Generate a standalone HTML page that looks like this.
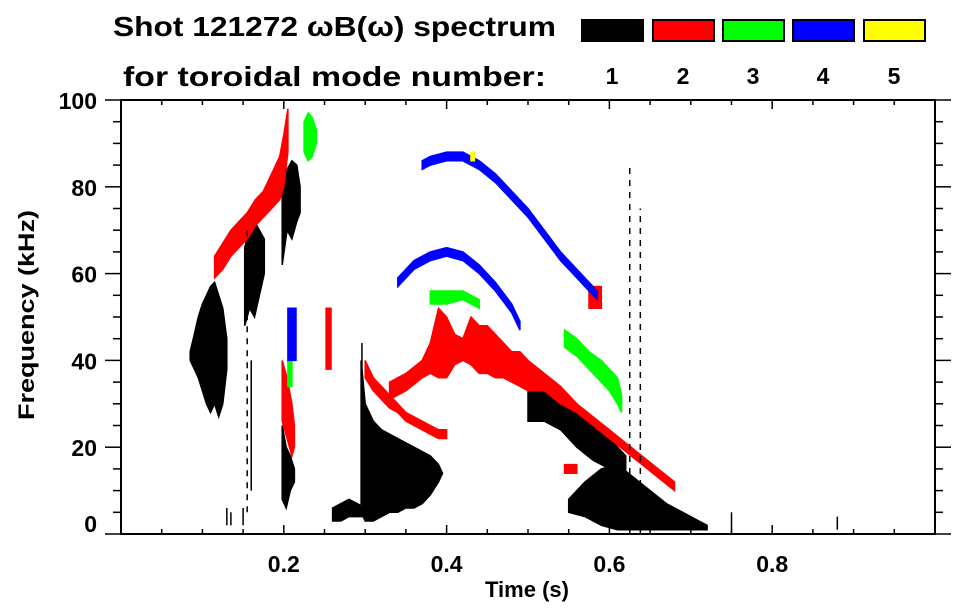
<!DOCTYPE html>
<html><head><meta charset="utf-8"><style>
html,body{margin:0;padding:0;background:#fff}
svg{display:block}
text{font-family:"Liberation Sans",Arial,sans-serif;font-weight:bold;fill:#000}
</style></head><body>
<svg id="chart" width="963" height="615" viewBox="0 0 963 615">
<text x="113" y="36" font-size="28" textLength="443" lengthAdjust="spacingAndGlyphs">Shot 121272 ωB(ω) spectrum</text>
<text x="123" y="86" font-size="28" textLength="423" lengthAdjust="spacingAndGlyphs">for toroidal mode number:</text>
<g id="legend"></g>
<g id="marks"></g>
<g id="axes"></g>
<text transform="translate(34,315) rotate(-90)" text-anchor="middle" font-size="22" textLength="210" lengthAdjust="spacingAndGlyphs">Frequency (kHz)</text>
<text x="527" y="597" text-anchor="middle" font-size="22">Time (s)</text>
</svg>
<script>
// ---- data ----
const modeNumbers = [1, 2, 3, 4, 5];
const modeColors = ['#000000', '#ff0000', '#00ff00', '#0000ff', '#ffff00'];
const xTicks = [0.2, 0.4, 0.6, 0.8];
const xTickLabels = ['0.2', '0.4', '0.6', '0.8'];
const yTicks = [0, 20, 40, 60, 80, 100];
const yTickLabels = ['0', '20', '40', '60', '80', '100'];

const m1aT = [.085,.09,.095,.10,.105,.11,.115,.12,.125,.13];
const m1aLo = [40,38,36,33,30,28,30,27,30,38];
const m1aHi = [42,46,50,53,55,57,58,55,52,45];
const m1bT = [.152,.158,.164,.170,.176];
const m1bLo = [48,52,50,55,60];
const m1bHi = [66,70,72,70,68];
const m1cT = [.198,.204,.21,.216,.22];
const m1cLo = [62,70,68,72,74];
const m1cHi = [80,84,86,85,80];
const m1dT = [.198,.203,.208,.213];
const m1dLo = [8,6,10,12];
const m1dHi = [25,20,18,15];
const m1eT = [.26,.27,.28,.29,.30];
const m1eLo = [3,3,4,4,4];
const m1eHi = [6,7,8,7,6];
const m1fT = [.295,.30,.31,.32,.33,.34,.35,.36,.37,.38,.39,.395];
const m1fLo = [5,3,3,4,5,5,6,6,7,9,12,14];
const m1fHi = [40,30,26,24,23,22,21,20,19,18,16,14];
const m1gT = [.50,.52,.54,.56,.58,.60,.62];
const m1gLo = [26,26,24,20,17,15,13];
const m1gHi = [34,33,31,29,26,22,18];
const m1hT = [.55,.57,.59,.61,.63,.65,.67,.69,.71,.72];
const m1hLo = [5,4,2,1,1,1,1,1,1,1];
const m1hHi = [8,12,15,16,13,10,7,5,3,2];
const m2aT = [.115,.125,.135,.145,.155,.165,.175,.185,.195,.2,.205];
const m2aLo = [59,61,64,66,68,71,73,75,77,80,88];
const m2aHi = [64,67,70,72,74,77,79,83,87,92,98];
const m2bT = [.198,.204,.21,.213];
const m2bLo = [26,22,18,20];
const m2bHi = [40,36,30,25];
const m2cT = [.252,.258];
const m2cLo = [38,38];
const m2cHi = [52,52];
const m2dT = [.33,.35,.37,.38,.39,.40,.41,.42,.43,.44,.45,.46,.47,.48,.49,.50,.52,.54,.56,.58,.60,.62,.64,.66,.68];
const m2dLo = [31,33,36,37,36,36,39,40,39,37,37,36,36,35,34,33,33,30,28,25,22,19,16,13,10];
const m2dHi = [35,37,40,44,52,50,46,45,50,48,48,46,44,42,42,40,37,34,30,27,24,21,18,15,12];
const m2eT = [.30,.31,.32,.33,.34,.35,.36,.37,.38,.39,.40];
const m2eLo = [36,33,31,29,28,26,25,24,23,22,22];
const m2eHi = [40,36,34,32,30,28,27,26,25,24,24];
const m2fT = [.545,.56];
const m2fLo = [14,14];
const m2fHi = [16,16];
const m2gT = [.575,.59];
const m2gLo = [52,52];
const m2gHi = [57,57];
const m3aT = [.225,.23,.235,.24];
const m3aLo = [88,86,87,90];
const m3aHi = [95,97,96,93];
const m3bT = [.38,.40,.42,.44];
const m3bLo = [53,53,54,52];
const m3bHi = [56,56,56,54];
const m3cT = [.545,.56,.575,.59,.60,.61,.615];
const m3cLo = [43,41,38,35,33,30,28];
const m3cHi = [47,45,42,40,38,36,32];
const m3dT = [.205,.21];
const m3dLo = [34,34];
const m3dHi = [40,40];
const m4aT = [.37,.38,.40,.42,.44,.46,.48,.50,.52,.54,.56,.58,.585];
const m4aLo = [84,85,86,86,84,81,77,73,68,63,59,55,54];
const m4aHi = [86,87,88,88,86,83,79,75,70,65,61,57,56];
const m4bT = [.34,.36,.38,.40,.42,.44,.46,.48,.49];
const m4bLo = [57,61,63,64,63,60,56,51,47];
const m4bHi = [59,63,65,66,65,62,58,53,49];
const m4cT = [.205,.215];
const m4cLo = [40,40];
const m4cHi = [52,52];
const m5aT = [.43,.434];
const m5aLo = [86,86];
const m5aHi = [88,88];

const spikeT = [.155,.16,.625,.638,.296,.15,.13,.135,.75,.88];
const spikeLo = [5,10,0,0,30,2,2,2,0,1];
const spikeHi = [70,40,85,75,44,6,6,5,5,4];

const blobs = [
  [1,m1aT,m1aLo,m1aHi],[1,m1bT,m1bLo,m1bHi],[1,m1cT,m1cLo,m1cHi],[1,m1dT,m1dLo,m1dHi],
  [1,m1eT,m1eLo,m1eHi],[1,m1fT,m1fLo,m1fHi],[1,m1gT,m1gLo,m1gHi],[1,m1hT,m1hLo,m1hHi],
  [2,m2aT,m2aLo,m2aHi],[2,m2bT,m2bLo,m2bHi],[2,m2cT,m2cLo,m2cHi],[2,m2dT,m2dLo,m2dHi],
  [2,m2eT,m2eLo,m2eHi],[2,m2fT,m2fLo,m2fHi],[2,m2gT,m2gLo,m2gHi],
  [3,m3aT,m3aLo,m3aHi],[3,m3bT,m3bLo,m3bHi],[3,m3cT,m3cLo,m3cHi],[3,m3dT,m3dLo,m3dHi],
  [4,m4aT,m4aLo,m4aHi],[4,m4bT,m4bLo,m4bHi],[4,m4cT,m4cLo,m4cHi],
  [5,m5aT,m5aLo,m5aHi]
];

// ---- scales ----
const X0 = 121, X1 = 935, Y0 = 534, Y1 = 100;
const xs = t => X0 + t * (X1 - X0);
const ys = f => Y0 - f / 100 * (Y0 - Y1);
const NS = 'http://www.w3.org/2000/svg';
function mk(tag, attrs, parent) {
  const e = document.createElementNS(NS, tag);
  for (const k in attrs) e.setAttribute(k, attrs[k]);
  parent.appendChild(e);
  return e;
}

const lg = document.getElementById('legend');
const legX = [582, 653, 723, 793, 864];
modeNumbers.forEach((m, i) => {
  const r = mk('rect', {x: legX[i], y: 20, width: 61, height: 21, fill: modeColors[i], stroke: '#000', 'stroke-width': 2}, lg);
  
  
  const tx = mk('text', {x: legX[i] + 30, y: 84, 'text-anchor': 'middle', 'font-size': 23}, lg);
  tx.textContent = String(m);
  
  
});

const mg = document.getElementById('marks');
blobs.forEach((b) => {
  const [mode, T, Lo, Hi] = b;
  let d = '';
  T.forEach((t, i) => { d += (i ? 'L' : 'M') + xs(t).toFixed(1) + ',' + ys(Hi[i]).toFixed(1); });
  for (let i = T.length - 1; i >= 0; i--) d += 'L' + xs(T[i]).toFixed(1) + ',' + ys(Lo[i]).toFixed(1);
  d += 'Z';
  const p = mk('path', {d: d, fill: modeColors[mode - 1], stroke: modeColors[mode - 1], 'stroke-width': 1.5}, mg);
  
  
});
spikeT.forEach((t, i) => {
  const l = mk('line', {x1: xs(t), x2: xs(t), y1: ys(spikeLo[i]), y2: ys(spikeHi[i]), stroke: '#000', 'stroke-width': 1.5, 'stroke-dasharray': (spikeHi[i]-spikeLo[i] > 30 ? '6,6' : 'none')}, mg);
  
  
});

const ax = document.getElementById('axes');
const frame = mk('rect', {x: X0, y: Y1, width: X1 - X0, height: Y0 - Y1, fill: 'none', stroke: '#000', 'stroke-width': 2}, ax);


for (let k = 0; k <= 20; k++) {
  const f = k * 5, major = k % 4 === 0, len = major ? 16 : 8;
  mk('line', {x1: X0 - len, x2: X0, y1: ys(f), y2: ys(f), stroke: '#000', 'stroke-width': 1.5}, ax);
  mk('line', {x1: X1, x2: X1 + len, y1: ys(f), y2: ys(f), stroke: '#000', 'stroke-width': 1.5}, ax);
}
for (let k = 1; k < 20; k++) {
  const t = k * 0.05, major = k % 4 === 0, len = major ? 9 : 5;
  mk('line', {x1: xs(t), x2: xs(t), y1: Y0, y2: Y0 - len, stroke: '#000', 'stroke-width': 1.5}, ax);
  mk('line', {x1: xs(t), x2: xs(t), y1: Y1, y2: Y1 + len, stroke: '#000', 'stroke-width': 1.5}, ax);
}
xTicks.forEach((t, i) => {
  const tx = mk('text', {x: xs(t), y: 572, 'text-anchor': 'middle', 'font-size': 23}, ax);
  tx.textContent = xTickLabels[i];
  
  
});
yTicks.forEach((f, i) => {
  const yy = f === 0 ? ys(f) - 2 : ys(f) + 9;
  const tx = mk('text', {x: 97, y: yy, 'text-anchor': 'end', 'font-size': 23}, ax);
  tx.textContent = yTickLabels[i];
  
  
});
</script>
</body></html>
